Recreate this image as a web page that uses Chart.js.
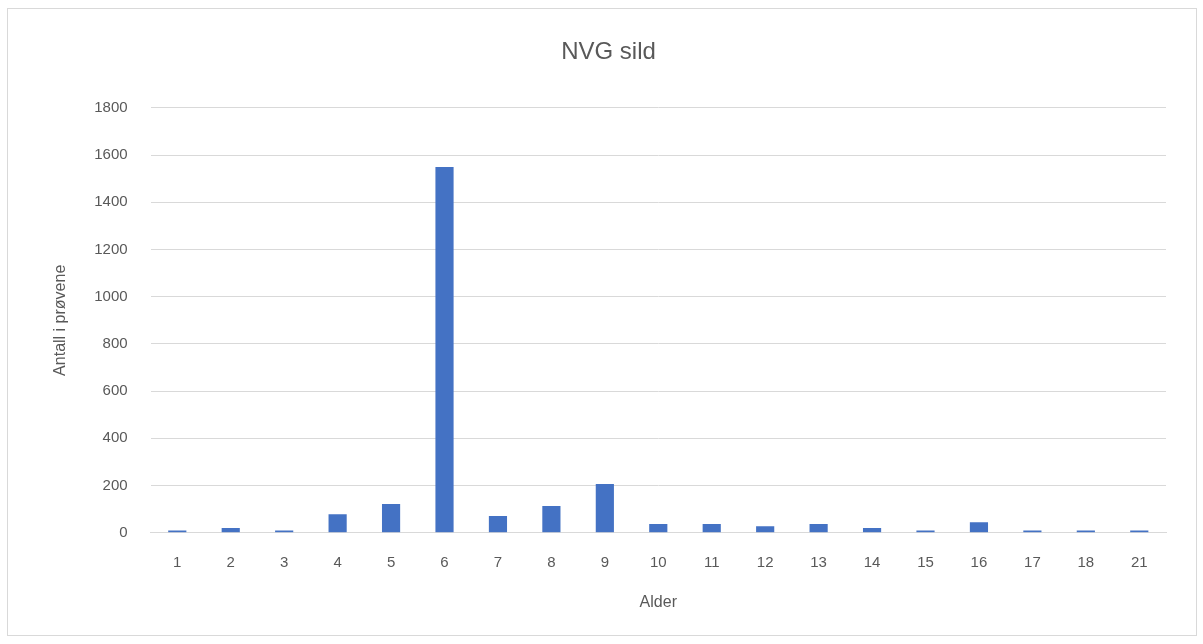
<!DOCTYPE html>
<html>
<head>
<meta charset="utf-8">
<script src="https://cdn.jsdelivr.net/npm/chart.js@4"></script>
<style>
  body { margin: 0; background: #fff; }
  #box { position: absolute; left: 7px; top: 8px; width: 1188px; height: 626px; border: 1px solid #d9d9d9; }
  canvas { display: block; }
</style>
</head>
<body>
<div id="box"><canvas id="graphic" width="1188" height="626"></canvas></div>
<script>
// alder (categories) og antall i prøvene
const ages = ["1", "2", "3", "4", "5", "6", "7", "8", "9", "10", "11", "12", "13", "14", "15", "16", "17", "18", "21"];
const counts = [10, 20, 10, 79, 122, 1549, 71, 113, 207, 37, 37, 28, 37, 20, 10, 45, 10, 10, 10];
const yTicks = [0, 200, 400, 600, 800, 1000, 1200, 1400, 1600, 1800];

const grey = "#595959";
const fontFam = "'Liberation Sans', Arial, sans-serif";

const ctx = document.getElementById("graphic").getContext("2d");
new Chart(ctx, {
    type: "bar",
    data: {
        labels: ages,
        datasets: [{
            label: "Antall",
            data: counts,
            backgroundColor: "#4472c4",
            barPercentage: 1,
            categoryPercentage: 0.34
        }]
    },
    options: {
        responsive: false,
        animation: false,
        layout: { padding: { top: 27, right: 30, bottom: 23, left: 43 } },
        plugins: {
            legend: { display: false },
            tooltip: { enabled: false },
            title: {
                display: true,
                text: "NVG sild",
                color: grey,
                font: { family: fontFam, size: 24, weight: "normal" },
                padding: { top: 2, bottom: 41 }
            }
        },
        scales: {
            x: {
                grid: { display: false, drawTicks: false },
                border: { display: true, color: "#d9d9d9" },
                ticks: { color: grey, font: { family: fontFam, size: 15 }, padding: 21 },
                title: {
                    display: true,
                    text: "Alder",
                    color: grey,
                    font: { family: fontFam, size: 16 },
                    padding: { top: 0, bottom: 0 }
                }
            },
            y: {
                min: 0,
                max: 1800,
                afterBuildTicks: (axis) => { axis.ticks = yTicks.map(v => ({ value: v })); },
                grid: { color: "#d9d9d9", drawTicks: false },
                border: { display: false },
                ticks: {
                    color: grey,
                    font: { family: fontFam, size: 15 },
                    padding: 23,
                    callback: (v) => String(v)
                },
                title: {
                    display: true,
                    text: "Antall i prøvene",
                    color: grey,
                    font: { family: fontFam, size: 16 },
                    padding: { top: 0, bottom: 1 }
                }
            }
        }
    }
});
</script>
</body>
</html>
